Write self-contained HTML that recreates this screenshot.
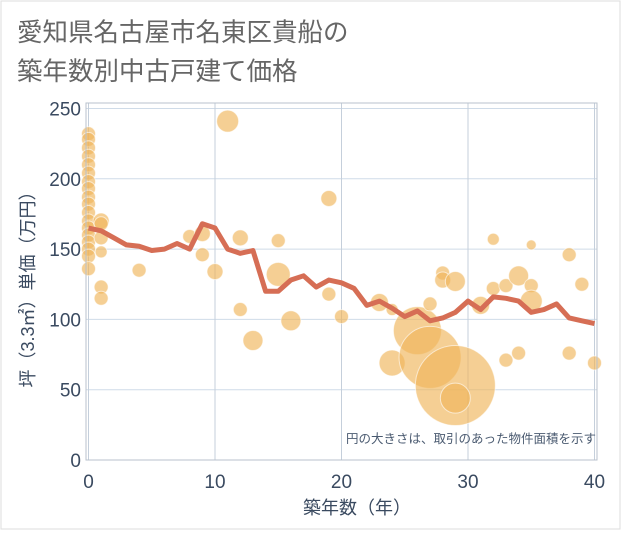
<!DOCTYPE html>
<html><head><meta charset="utf-8"><style>
body{margin:0;background:#fff;}
svg text{font-family:"Liberation Sans","Noto Sans CJK JP",sans-serif;}
</style></head><body>
<svg width="621" height="530" viewBox="0 0 621 530">
<rect x="1" y="1" width="619" height="528" fill="#fff" stroke="#ddd"/>
<text x="17" y="41" font-size="25.5" fill="#666">愛知県名古屋市名東区貴船の</text>
<text x="17" y="80" font-size="25.5" fill="#666">築年数別中古戸建て価格</text>
<g id="grid"></g>
<g id="bubbles"></g>
<g id="line"></g>
<g id="axes"></g>
<text x="596" y="443" font-size="12.5" fill="#4a5a70" text-anchor="end">円の大きさは、取引のあった物件面積を示す</text>
<text x="357" y="514" font-size="18" fill="#3a4a60" text-anchor="middle">築年数（年）</text>
<text transform="translate(34,285) rotate(-90)" font-size="18" fill="#3a4a60" text-anchor="middle">坪（3.3㎡）単価（万円）</text>
</svg>
<script>
const xTicks=[0,10,20,30,40];
const yTicks=[0,50,100,150,200,250];
const lineYears=[0,1,2,3,4,5,6,7,8,9,10,11,12,13,14,15,16,17,18,19,20,21,22,23,24,25,26,27,28,29,30,31,32,33,34,35,36,37,38,39,40];
const lineValues=[165,163,158,153,152,149,150,154,150,168,165,150,147,149,120,120,128,131,123,128,126,122,110,113,108,102,106,99,101,105,113,107,116,115,113,105,107,111,101,99,97];
const bubbleYears=[0,0,0,0,0,0,0,0,0,0,0,0,0,0,0,0,0,0,1,1,1,1,1,1,4,8,9,9,10,11,12,12,13,15,15,16,19,19,20,23,24,24,26,27,29,29,27,28,28,29,31,32,32,33,34,35,35,35,38,39,38,33,34,40];
const bubbleValues=[232,228,222,216,210,204,198,193,187,182,176,170,165,160,155,150,145,136,170,168,158,148,123,115,135,159,161,146,134,241,158,107,85,156,132,99,186,118,102,112,107,69,92,73,53,44,111,133,128,127,110,157,122,124,131,153,124,113,146,125,76,71,76,69];
const bubbleSizes=[7,7,7,7,7,7,7,7,7,7,7,7,7,7,7,7,7,7,8,7,7,6,7,7,7,7,8,7,8,11,8,7,10,7,12,10,8,7,7,9,6,13,24,31,40,15,7,7,8,10,9,6,7,7,10,5,7,11,7,7,7,7,7,7];
const L=86,R=597,T=103,B=460;
const xs=v=>88.5+v*12.65;
const ys=v=>460-v*1.406;
const NS='http://www.w3.org/2000/svg';
function mk(t,a,p){const e=document.createElementNS(NS,t);for(const k in a)e.setAttribute(k,a[k]);p.appendChild(e);return e;}
const grid=document.getElementById('grid');
yTicks.forEach(v=>{
 const l=mk('line',{x1:L,x2:R,y1:ys(v),y2:ys(v),stroke:'#cfdbe8','stroke-width':1},grid);
 
 
});
xTicks.forEach(v=>{
 const l=mk('line',{x1:xs(v),x2:xs(v),y1:T,y2:B,stroke:'#c5cfdb','stroke-width':1},grid);
 
 
});
const bg=document.getElementById('bubbles');
bubbleYears.forEach((yr,i)=>{
 const c=mk('circle',{cx:xs(yr),cy:ys(bubbleValues[i]),r:bubbleSizes[i],fill:'#f0b55a','fill-opacity':0.65,stroke:'#fff','stroke-opacity':0.6,'stroke-width':1},bg);
 
 
});
const lg=document.getElementById('line');
const p=mk('polyline',{points:lineYears.map((y,i)=>xs(y)+','+ys(lineValues[i])).join(' '),fill:'none',stroke:'#d66e55','stroke-width':5,'stroke-linejoin':'round'},lg);


const ax=document.getElementById('axes');
const fr=mk('rect',{x:L,y:T,width:R-L,height:B-T,fill:'none',stroke:'#b8c2cc','stroke-width':1},ax);


yTicks.forEach(v=>{
 const t=mk('text',{x:81,y:ys(v)+7,'font-size':19,fill:'#3a4a60','text-anchor':'end'},ax);
 t.textContent=v;
 
 
});
xTicks.forEach(v=>{
 const t=mk('text',{x:xs(v),y:488,'font-size':19,fill:'#3a4a60','text-anchor':'middle'},ax);
 t.textContent=v;
 
 
});
</script>
</body></html>
